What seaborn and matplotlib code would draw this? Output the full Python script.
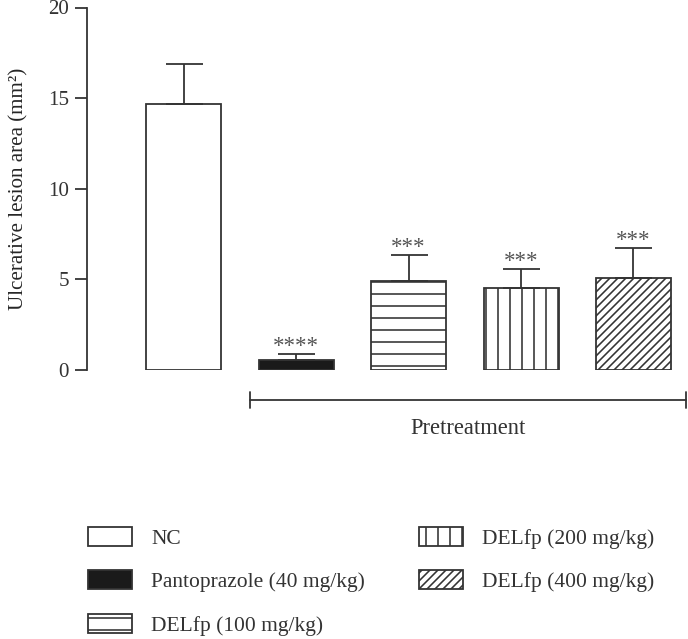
import matplotlib
matplotlib.use("Agg")
import matplotlib.pyplot as plt
import seaborn as sns
import numpy as np

# valores
groups = ["NC", "Pantoprazole (40 mg/kg)", "DELfp (100 mg/kg)",
          "DELfp (200 mg/kg)", "DELfp (400 mg/kg)"]
means = [14.7, 0.55, 4.9, 4.5, 5.05]
sem = [2.2, 0.33, 1.47, 1.09, 1.69]
stars = ["", "****", "***", "***", "***"]

facecolors = ["white", "#1a1a1a", "white", "white", "white"]
hatches = ["", "", "-", "|", "///"]
INK = "#333333"

sns.set_style("ticks")
plt.rcParams.update({
    "font.family": ["Liberation Serif", "DejaVu Serif"],
    "font.size": 21,
    "hatch.linewidth": 1.6,
    "hatch.color": INK,
    "text.color": INK,
    "axes.edgecolor": INK,
    "ytick.color": INK,
})

fig = plt.figure(figsize=(688 / 72, 639 / 72), dpi=72)
ax = fig.add_axes([87 / 688, 1 - 370 / 639, 599 / 688, 362.5 / 639])

sns.barplot(x=groups, y=means, hue=groups, palette=facecolors, saturation=1,
            width=0.667, edgecolor=INK, linewidth=1.8, legend=False, ax=ax)
bars = list(ax.patches)
for bar, h in zip(bars, hatches):
    bar.set_hatch(h)

x = np.arange(len(groups))
ax.errorbar(x, means, yerr=[np.zeros(len(sem)), sem], fmt="none",
            ecolor=INK, elinewidth=1.8, capsize=18.5, capthick=1.8, zorder=3)

for xi, m, s, st in zip(x, means, sem, stars):
    if st:
        ax.annotate(st, (xi, m + s), xytext=(0, -3), textcoords="offset points",
                    ha="center", va="bottom", fontsize=23, color="#555555")

ax.set_xlim(-0.86, 4.467)
ax.set_ylim(0, 20)
ax.set_yticks([0, 5, 10, 15, 20])
ax.set_xticks([])
ax.tick_params(axis="y", length=12, width=1.8, labelsize=21, pad=6)
sns.despine(ax=ax, bottom=True)
ax.spines["left"].set_linewidth(1.8)
ax.spines["left"].set_bounds(0, 20)

ax.set_ylabel("Ulcerative lesion area (mm²)", fontsize=21)
ax.yaxis.set_label_coords(-0.098, 0.5)

# corchete de pretratamiento
yb = -1.66
ax.plot([0.59, 4.467], [yb, yb], color=INK, lw=1.8, clip_on=False)
for xe in [0.59, 4.467]:
    ax.plot([xe, xe], [yb - 0.44, yb + 0.44], color=INK, lw=1.8, clip_on=False)
ax.text((0.59 + 4.467) / 2, -3.2, "Pretreatment", ha="center", va="center",
        fontsize=22.5, clip_on=False)

ax.legend(handles=bars, labels=groups, ncol=2, loc="upper left",
          bbox_to_anchor=(88 / 688, 1 - 527 / 639), bbox_transform=fig.transFigure,
          frameon=False, fontsize=21.5, handlelength=2.05, handleheight=0.98,
          handletextpad=0.88, labelspacing=1.0, columnspacing=2.5,
          borderpad=0, borderaxespad=0)

fig.savefig("out.png", dpi=72)
plt.close(fig)
